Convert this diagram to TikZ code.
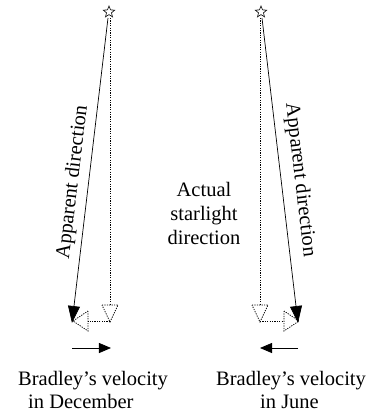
\documentclass[tikz,border=0pt]{standalone}
\usepackage{fontspec}
\setmainfont{Liberation Serif}
\usetikzlibrary{arrows.meta,shapes.geometric}
\tikzset{
  vec/.style={line width=0.7bp,-{Triangle[length=17bp,width=12bp]}},
  velarrow/.style={line width=0.8bp,-{Triangle[length=12bp,width=10bp]}},
  dots/.style={line width=0.8bp,dash pattern=on 1.2bp off 1.2bp},
  starnode/.style={star,star points=5,star point ratio=2.3,draw,line width=0.6bp,minimum size=12bp,inner sep=0pt},
  lbl/.style={font=\fontsize{20.5bp}{24bp}\selectfont,inner sep=0pt},
}
\begin{document}
\begin{tikzpicture}[x=1bp,y=1bp]
\useasboundingbox (0,0) rectangle (379,-411);
% left
\node[starnode] (s1) at (109,-12) {};
\coordinate (l1) at (108,-18);
\coordinate (l2) at (72,-323);
\coordinate (la) at (110,-18);
\coordinate (lb) at (110,-305);
\coordinate (lc) at (110,-321);
\coordinate (ld) at (88,-321);
\draw[vec] (l1) -- (l2);
\draw[dots] (la) -- (lb);
\draw[dots] (102,-305) -- (118,-305) -- (110,-322) -- cycle;
\draw[dots] (lc) -- (ld);
\draw[dots] (88,-311) -- (88,-331) -- (73,-321) -- cycle;
\node[lbl,rotate=83.25] (t1) at (73,-182) {Apparent direction};
% right
\node[starnode] (s2) at (261,-12) {};
\coordinate (r1) at (262,-18);
\coordinate (r2) at (298,-323);
\coordinate (ra) at (260,-18);
\coordinate (rb) at (260,-305);
\coordinate (rc) at (260,-321);
\coordinate (rd) at (284,-321);
\draw[vec] (r1) -- (r2);
\draw[dots] (ra) -- (rb);
\draw[dots] (252,-305) -- (268,-305) -- (260,-322) -- cycle;
\draw[dots] (rc) -- (rd);
\draw[dots] (284,-311) -- (284,-331) -- (299,-321) -- cycle;
\node[lbl,rotate=-83.25] (t2) at (300,-180) {Apparent direction};
% middle
\node[lbl,align=center] (act) at (204,-213) {Actual\\starlight\\direction};
% velocities
\coordinate (v1a) at (72,-348);
\coordinate (v1b) at (111,-348);
\draw[velarrow] (v1a) -- (v1b);
\coordinate (v2a) at (298,-348);
\coordinate (v2b) at (260,-348);
\draw[velarrow] (v2a) -- (v2b);
\node[lbl,anchor=base west] (b1) at (18,-385) {Bradley’s velocity};
\node[lbl,anchor=base west] (d1) at (28,-408) {in December};
\node[lbl,anchor=base west] (b2) at (216,-385) {Bradley’s velocity};
\node[lbl,anchor=base west] (j2) at (260,-408) {in June};
\end{tikzpicture}
\end{document}
